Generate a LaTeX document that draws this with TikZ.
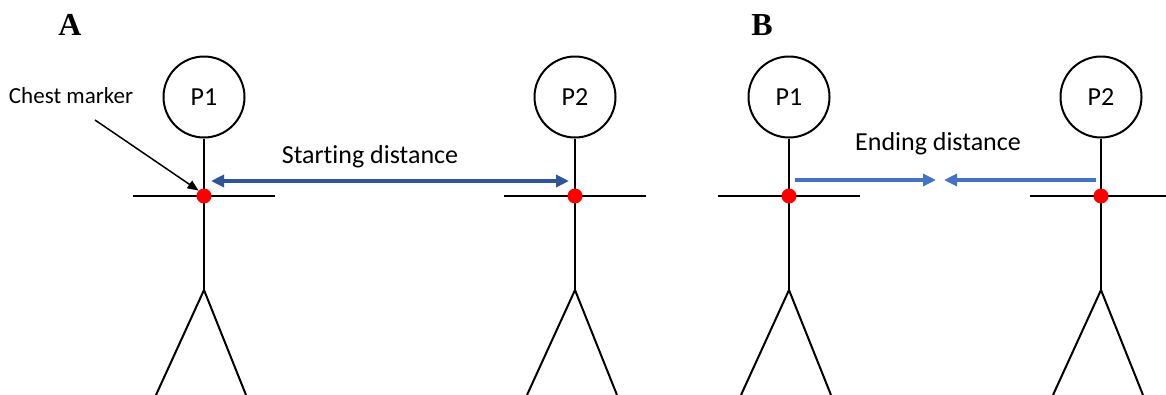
\documentclass[tikz,border=0pt]{standalone}
\usepackage{fontspec}
\setmainfont{Liberation Serif}
\newfontfamily\labelfont[Ligatures=NoCommon]{Carlito}
\usetikzlibrary{arrows.meta}
\definecolor{darkarrow}{HTML}{2F5597}
\definecolor{lightarrow}{HTML}{4472C4}
\tikzset{
  head/.style={circle, draw, line width=2pt, minimum size=81pt, inner sep=0pt, font=\labelfont\fontsize{26}{26}\selectfont},
  limb/.style={line width=2pt},
  marker/.style={circle, fill=red, minimum size=15pt, inner sep=0pt},
  txt/.style={font=\labelfont\fontsize{26}{26}\selectfont, inner sep=0pt},
  smalltxt/.style={font=\labelfont\fontsize{23}{23}\selectfont, inner sep=0pt},
  panel/.style={font=\bfseries\fontsize{32}{32}\selectfont, inner sep=0pt},
  distA/.style={draw=darkarrow, line width=3.5pt, {Triangle[length=13pt,width=12pt]}-{Triangle[length=13pt,width=12pt]}},
  distB/.style={draw=lightarrow, line width=3.5pt, -{Triangle[length=13pt,width=12pt]}},
  pointer/.style={line width=1.5pt, -{Triangle[length=11pt,width=9pt]}}
}
\newcommand{\stickfigure}[3]{% name, x, label
  \node[head] (#1head) at (#2,97) {#3};
  \coordinate (#1chest) at (#2,196);
  \coordinate (#1hip) at (#2,290);
  \coordinate (#1armL) at (#2-71,196);
  \coordinate (#1armR) at (#2+71,196);
  \coordinate (#1footL) at (#2-48,395);
  \coordinate (#1footR) at (#2+42,395);
  \draw[limb] (#1head.south) -- (#1hip);
  \draw[limb] (#1armL) -- (#1armR);
  \draw[limb] (#1footL) -- (#1hip) -- (#1footR);
  \node[marker] (#1dot) at (#1chest) {};
}
\begin{document}
\begin{tikzpicture}[x=1pt, y=-1pt]
  \useasboundingbox (0,0) rectangle (1166,394);
  \fill[white] (0,0) rectangle (1166,394);

  % panel A
  \node[panel] (labA) at (70,25) {A};
  \stickfigure{a}{204}{P1}
  \stickfigure{b}{575}{P2}
  \coordinate (aStart) at (211,181);
  \coordinate (bStart) at (569,181);
  \draw[distA] (aStart) -- (bStart);
  \node[txt] (startlbl) at (370,157) {Starting distance};
  \node[smalltxt] (chest) at (71,96) {Chest marker};
  \coordinate (chestTail) at (95,120);
  \draw[pointer] (chestTail) -- (adot.north west);

  % panel B
  \node[panel] (labB) at (762,25) {B};
  \stickfigure{c}{789}{P1}
  \stickfigure{d}{1101}{P2}
  \coordinate (cStart) at (795,180);
  \coordinate (cEnd) at (936,180);
  \coordinate (dStart) at (1096,180);
  \coordinate (dEnd) at (944,180);
  \draw[distB] (cStart) -- (cEnd);
  \draw[distB] (dStart) -- (dEnd);
  \node[txt] (endlbl) at (938,144) {Ending distance};
\end{tikzpicture}
\end{document}
